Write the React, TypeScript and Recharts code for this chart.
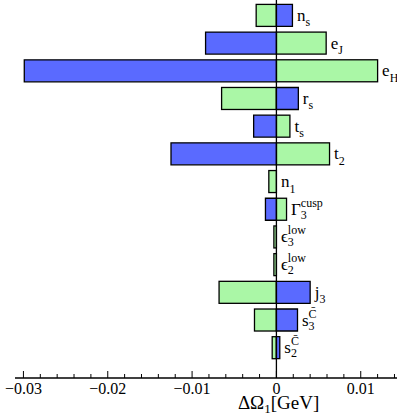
// Horizontal tornado-style bar chart of ΔΩ1 shifts per parameter
import React from "react";
import { BarChart, Bar, XAxis, YAxis, ReferenceLine } from "recharts";

const mainLabels = ["n", "e", "e", "r", "t", "t", "n", "Γ", "ϵ", "ϵ", "j", "s", "s"];
const subLabels = ["s", "J", "H", "s", "s", "2", "1", "3", "3", "2", "3", "3", "2"];
const supLabels = ["", "", "", "", "", "", "", "cusp", "low", "low", "", "C\u0304", "C\u0304"];
const greenValues = [-0.0024, 0.0059, 0.012, -0.0065, 0.0016, 0.0063, -0.0009, 0.0012, -0.0003, -0.0003, -0.0068, -0.0026, -0.0005];
const blueValues = [0.0019, -0.0084, -0.0299, 0.0026, -0.0027, -0.0125, 0, -0.0013, 0, 0, 0.004, 0.0025, 0.0004];

const tickValues = [
  -0.03, -0.028, -0.026, -0.024, -0.022, -0.02, -0.018, -0.016, -0.014, -0.012,
  -0.01, -0.008, -0.006, -0.004, -0.002, 0, 0.002, 0.004, 0.006, 0.008, 0.01, 0.012, 0.014,
];
const majorTicks = [-0.03, -0.02, -0.01, 0, 0.01];
const majorTickLabels = ["\u22120.03", "\u22120.02", "\u22120.01", "0", "0.01"];

const data = mainLabels.map((m, i) => ({
  name: m + subLabels[i] + supLabels[i] + i,
  green: greenValues[i],
  blue: blueValues[i],
}));

const GREEN = "#aaf7a6";
const BLUE = "#5a6aff";
const FONT = "'Liberation Serif', 'DejaVu Serif', serif";

const GreenShape = (props: any) => {
  const { x, y, width, height, index } = props;
  const g = greenValues[index];
  const b = blueValues[index];
  const left = Math.min(x, x + width);
  const w = Math.abs(width);
  const k = g !== 0 ? w / Math.abs(g) : 0;
  const zero = g > 0 ? left : left + w;
  const rightEnd = zero + Math.max(0, g, b) * k;
  const lx = rightEnd + 4.5;
  const base = y + height / 2 + 5.5;
  return (
    <g>
      {w > 0 && (
        <rect x={left} y={y} width={w} height={height} fill={GREEN} stroke="#000" strokeWidth={1.3} />
      )}
      <text x={lx} y={base} fontFamily={FONT} fontSize={17} fill="#000">
        <tspan>{mainLabels[index]}</tspan>
        <tspan dy={supLabels[index] ? 4 : 5.5} fontSize={12}>
          {subLabels[index]}
        </tspan>
      </text>
      {supLabels[index] && (
        <text x={lx} y={base} fontFamily={FONT} fontSize={17} fill="#000">
          <tspan fill="none">{mainLabels[index]}</tspan>
          <tspan dy={-8} fontSize={12}>
            {supLabels[index]}
          </tspan>
        </text>
      )}
    </g>
  );
};

const AxisTick = (props: any) => {
  const { x, y, payload } = props;
  const idx = majorTicks.findIndex((t) => Math.abs(t - payload.value) < 1e-9);
  const major = idx >= 0;
  return (
    <g>
      <line x1={x} x2={x} y1={y} y2={y - (major ? 7 : 4)} stroke="#000" strokeWidth={1} />
      {major && (
        <text x={x} y={y + 15.5} textAnchor="middle" fontFamily={FONT} fontSize={16} fill="#000">
          {majorTickLabels[idx]}
        </text>
      )}
    </g>
  );
};

const AxisTitle = (props: any) => {
  const vb = props.viewBox;
  return (
    <text x={vb.x + vb.width * 0.69} y={vb.y + 31} textAnchor="middle" fontFamily={FONT} fontSize={19} fill="#000">
      <tspan>ΔΩ</tspan>
      <tspan dy={4} fontSize={13}>1</tspan>
      <tspan dy={-4}>[GeV]</tspan>
    </text>
  );
};

export default function App() {
  return (
    <div style={{ position: "absolute", left: 0, top: 0, background: "#fff" }}>
      <BarChart
        width={399}
        height={416}
        data={data}
        layout="vertical"
        stackOffset="sign"
        barSize={22}
        margin={{ top: 0, right: 2, left: 15, bottom: 0 }}
      >
        <XAxis
          type="number"
          domain={[-0.031, 0.0143]}
          ticks={tickValues}
          interval={0}
          allowDataOverflow
          height={38}
          tickSize={0}
          tickMargin={0}
          tickLine={false}
          tick={<AxisTick />}
          axisLine={{ stroke: "#000", strokeWidth: 1.3 }}
          label={<AxisTitle />}
        />
        <YAxis type="category" dataKey="name" hide padding={{ top: 1.4, bottom: 16.6 }} />
        <Bar dataKey="green" stackId="a" shape={<GreenShape />} isAnimationActive={false} />
        <Bar dataKey="blue" stackId="a" fill={BLUE} stroke="#000" strokeWidth={1.3} isAnimationActive={false} />
        <ReferenceLine x={0} stroke="#000" strokeWidth={1.3} />
      </BarChart>
    </div>
  );
}
